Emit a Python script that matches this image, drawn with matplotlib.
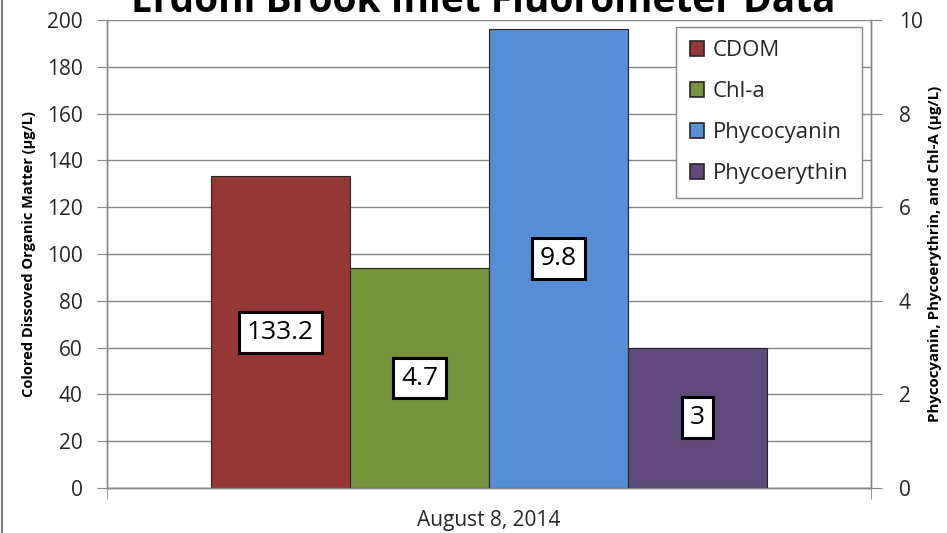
import matplotlib.pyplot as plt
from matplotlib.patches import Patch
from matplotlib.lines import Line2D

plt.rcParams['font.family'] = ['Open Sans', 'DejaVu Sans']

category = "August 8, 2014"
series = ["CDOM", "Chl-a", "Phycocyanin", "Phycoerythin"]
values = [133.2, 4.7, 9.8, 3]
on_right = [False, True, True, True]
colors = ["#953735", "#77933C", "#558ED5", "#604A7B"]

left_ticks = list(range(0, 201, 20))
right_ticks = list(range(0, 11, 2))

fig = plt.figure(figsize=(9.47, 5.33), dpi=100)
ax = fig.add_axes([107 / 947, 1 - 488 / 533, 764 / 947, 468 / 533])
ax2 = ax.twinx()

grey = "#868686"
w = 139 / 764
offsets = [-1.5 * w, -0.5 * w, 0.5 * w, 1.5 * w]

handles = []
for name, v, right, c, off in zip(series, values, on_right, colors, offsets):
    a = ax2 if right else ax
    a.bar(off, v, width=w, color=c, edgecolor="#262626", linewidth=0.8, zorder=3)
    handles.append(Patch(facecolor=c, edgecolor="#262626", linewidth=1.2, label=name))

for v, right, off in zip(values, on_right, offsets):
    y = v / 2 if right else v / 2 / 20
    ax2.text(off, y, f"{v:g}", ha="center", va="center", fontsize=19, zorder=5,
             bbox=dict(boxstyle="square,pad=0.3", fc="white", ec="black", lw=2.2))

ax.set_xlim(-0.5, 0.5)
ax.set_ylim(0, 200)
ax2.set_ylim(0, 10)
ax.set_yticks(left_ticks)
ax2.set_yticks(right_ticks)
ax.set_xticks([0])
ax.set_xticklabels([category])
ax.set_xticks([-0.5, 0.5], minor=True)

ax.set_axisbelow(True)
ax.yaxis.grid(True, color=grey, linewidth=1)
for a in (ax, ax2):
    a.spines["top"].set_visible(False)
    for s in ("left", "right", "bottom"):
        a.spines[s].set_color(grey)
        a.spines[s].set_linewidth(1)

ax.tick_params(axis="y", length=7.5, color=grey, labelsize=15, pad=10, labelcolor="#262626")
ax2.tick_params(axis="y", length=8, color=grey, labelsize=15, pad=12, labelcolor="#262626")
ax.tick_params(axis="x", which="major", length=0, labelsize=15, pad=16, labelcolor="#262626")
ax.tick_params(axis="x", which="minor", length=8, color=grey)

ax.set_ylabel("Colored Dissoved Organic Matter (µg/L)", fontsize=10.5, fontweight="bold", labelpad=8)
ax2.set_ylabel("Phycocyanin, Phycoerythrin, and Chl-A (µg/L)", fontsize=10.8, fontweight="bold", labelpad=4)

leg = ax2.legend(handles=handles, loc="upper right", bbox_to_anchor=(0.988, 0.985), borderaxespad=0,
                 fontsize=16, labelspacing=0.9, handlelength=0.65, handleheight=0.65, handletextpad=0.4,
                 fancybox=False, framealpha=1, edgecolor=grey, borderpad=0.6)
leg.get_frame().set_linewidth(1)
for t in leg.get_texts():
    t.set_color("#262626")

fig.text(483 / 947, 1 - 12 / 533, "Erdoni Brook Inlet Fluorometer Data", ha="center", va="baseline",
         fontsize=28, fontweight="bold")
fig.add_artist(Line2D([2 / 947, 2 / 947], [0, 1], color="#808080", linewidth=1.5, transform=fig.transFigure))

fig.savefig("out.png", dpi=100)
